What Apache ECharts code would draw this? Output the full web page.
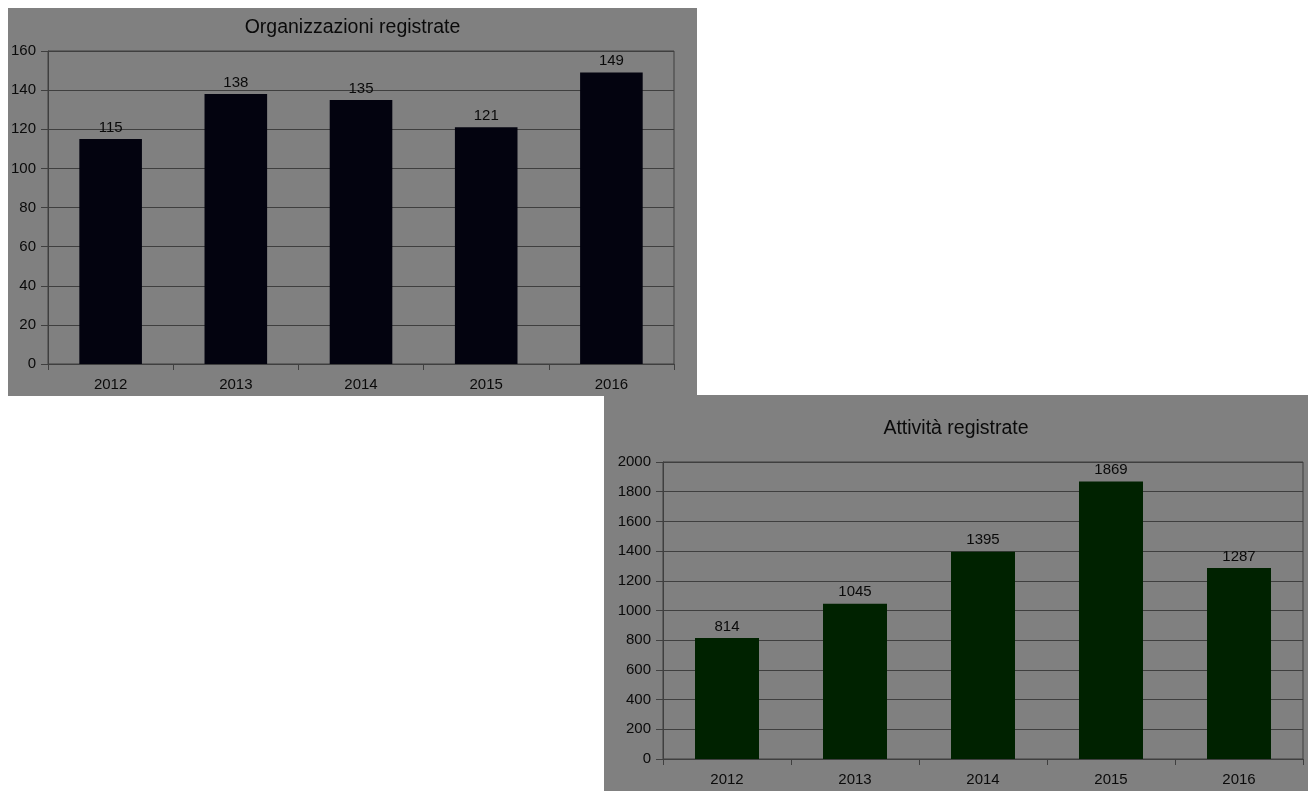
<!DOCTYPE html>
<html>
<head>
<meta charset="utf-8">
<script src="https://cdn.jsdelivr.net/npm/echarts@6/dist/echarts.min.js"></script>
<style>
html,body{margin:0;padding:0;background:#ffffff;width:1308px;height:791px;overflow:hidden;position:relative;}
#c1{position:absolute;left:8px;top:8px;width:689px;height:388px;}
#c2{position:absolute;left:604px;top:395px;width:704px;height:396px;}
</style>
</head>
<body>
<div id="c1"></div>
<div id="c2"></div>
<script>
var years = ['2012', '2013', '2014', '2015', '2016'];
var orgValues = [115, 138, 135, 121, 149];
var actValues = [814, 1045, 1395, 1869, 1287];
var orgTitle = 'Organizzazioni registrate';
var actTitle = 'Attività registrate';

var FONT = '"Liberation Sans", Arial, sans-serif';
var TXT = '#0a0a0a';
var LINE = '#3f3f3f';

function makeOption(title, values, max, interval, color, grid) {
  return {
    animation: false,
    backgroundColor: '#808080',
    textStyle: { fontFamily: FONT },
    title: {
      text: title, left: 'center', top: grid.titleTop,
      textStyle: { fontFamily: FONT, fontSize: 19.5, fontWeight: 'normal', color: TXT }
    },
    grid: {
      left: grid.left, right: grid.right, top: grid.top, bottom: grid.bottom,
      show: true, borderColor: LINE, borderWidth: 1, backgroundColor: 'transparent'
    },
    xAxis: {
      type: 'category', data: years,
      axisLine: { show: true, lineStyle: { color: LINE, width: 1 } },
      axisTick: { show: true, length: 6, lineStyle: { color: LINE } },
      axisLabel: { color: TXT, fontSize: 15, fontFamily: FONT, margin: 13 }
    },
    yAxis: {
      type: 'value', min: 0, max: max, interval: interval,
      axisLine: { show: true, lineStyle: { color: LINE, width: 1 } },
      axisTick: { show: true, length: 7, lineStyle: { color: LINE } },
      axisLabel: { color: TXT, fontSize: 15, fontFamily: FONT, margin: 12,
                   formatter: function (v) { return String(v); } },
      splitLine: { show: true, lineStyle: { color: LINE, width: 1 } }
    },
    series: [{
      type: 'bar', data: values, barWidth: '50%',
      itemStyle: { color: color },
      label: { show: true, position: 'top', distance: 4, color: TXT, fontSize: 15, fontFamily: FONT }
    }]
  };
}

var ch1 = echarts.init(document.getElementById('c1'), null, { renderer: 'canvas' });
ch1.setOption(makeOption(orgTitle, orgValues, 160, 20, '#03030f',
  { left: 40, right: 23, top: 43, bottom: 32, titleTop: 5 }));

var ch2 = echarts.init(document.getElementById('c2'), null, { renderer: 'canvas' });
ch2.setOption(makeOption(actTitle, actValues, 2000, 200, '#002200',
  { left: 59, right: 5, top: 67, bottom: 32, titleTop: 19 }));
</script>
</body>
</html>
